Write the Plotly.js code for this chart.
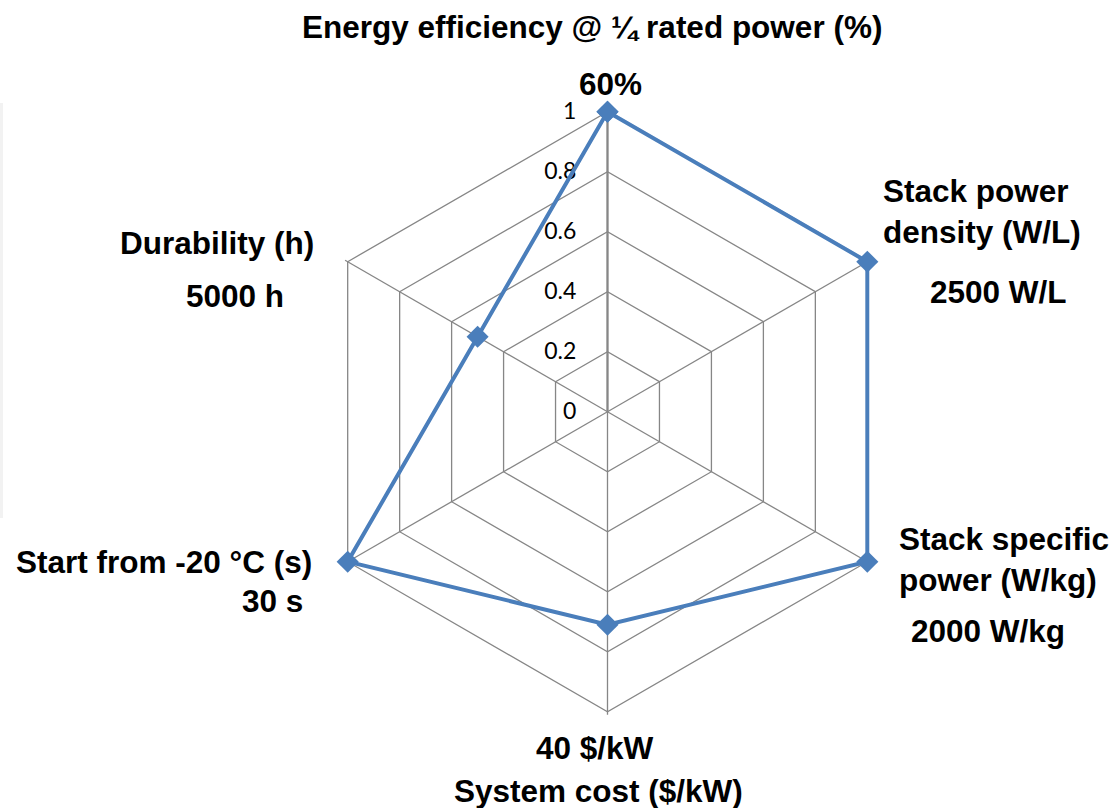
<!DOCTYPE html>
<html>
<head>
<meta charset="utf-8">
<script src="https://cdn.plot.ly/plotly-3.0.1.min.js"></script>
<style>
  html, body { margin: 0; padding: 0; background: #ffffff; }
  #chart { width: 1117px; height: 808px; }
</style>
</head>
<body>
<div id="chart"></div>
<script>
// Fuel-cell system targets, normalised so that the target on each axis = 1
const categories = [
  'Energy efficiency @ ¼ rated power (%)',
  'Stack power<br>density (W/L)',
  'Stack specific<br>power (W/kg)',
  'System cost ($/kW)',
  'Start from -20 °C (s)',
  'Durability (h)'
];
const targets = ['60%', '2500 W/L', '2000 W/kg', '40 $/kW', '30 s', '5000 h'];
const scores = [1, 1, 1, 0.71, 1, 0.5];
const radialTicks = [0, 0.2, 0.4, 0.6, 0.8, 1];

const W = 1117, H = 808;
const px = v => v / W;
const py = v => 1 - v / H;

// Where each axis name and its target value sit around the hexagon
const namePlacement = [
  { x: 592, y: 27, xanchor: 'center', align: 'center' },
  { x: 881, y: 211.5, xanchor: 'left', align: 'left' },
  { x: 897, y: 559.5, xanchor: 'left', align: 'left' },
  { x: 598, y: 791, xanchor: 'center', align: 'center' },
  { x: 314, y: 562, xanchor: 'right', align: 'right' },
  { x: 217, y: 243, xanchor: 'center', align: 'center' }
];
const targetPlacement = [
  { x: 610.5, y: 84, xanchor: 'center' },
  { x: 998, y: 292, xanchor: 'center' },
  { x: 988, y: 631, xanchor: 'center' },
  { x: 595, y: 748, xanchor: 'center' },
  { x: 305, y: 601, xanchor: 'right' },
  { x: 234.5, y: 296, xanchor: 'center' }
];

const labelFont = { family: 'Liberation Sans, Arial, sans-serif', size: 31.5, color: '#000000', weight: 700 };

const annotations = [];
categories.forEach((name, i) => {
  const p = namePlacement[i];
  annotations.push({
    xref: 'paper', yref: 'paper', x: px(p.x), y: py(p.y),
    xanchor: p.xanchor, yanchor: 'middle', align: p.align,
    text: name, showarrow: false, font: labelFont
  });
  const t = targetPlacement[i];
  annotations.push({
    xref: 'paper', yref: 'paper', x: px(t.x), y: py(t.y),
    xanchor: t.xanchor, yanchor: 'middle', align: 'center',
    text: targets[i], showarrow: false, font: labelFont
  });
});

const trace = {
  type: 'scatterpolar',
  r: scores.concat([scores[0]]),
  theta: categories.concat([categories[0]]),
  mode: 'lines+markers',
  cliponaxis: false,
  line: { color: '#4A7EBB', width: 4 },
  marker: { symbol: 'diamond', size: 17, color: '#4A7EBB' },
  hoverinfo: 'skip'
};

// The radial range runs a hair past 1 so the series line along the outer
// hexagon is not clipped; r = 1 sits 300 px from the centre (607.5, 411.7).
const rMax = 1.01;
const cx = 607.5, cy = 411.7, R = 300 * rMax;
const gridGrey = '#868686';

const layout = {
  width: W,
  height: H,
  margin: { l: 0, r: 0, t: 0, b: 0 },
  paper_bgcolor: '#ffffff',
  showlegend: false,
  polar: {
    domain: { x: [px(cx - R), px(cx + R)], y: [py(cy + R), py(cy - R)] },
    bgcolor: 'rgba(0,0,0,0)',
    gridshape: 'linear',
    angularaxis: {
      type: 'category',
      categoryorder: 'array',
      categoryarray: categories,
      rotation: 90,
      direction: 'clockwise',
      layer: 'below traces',
      showticklabels: false,
      ticks: '',
      showline: false,
      showgrid: true,
      gridcolor: gridGrey,
      gridwidth: 1.3
    },
    radialaxis: {
      range: [0, rMax],
      angle: 90,
      side: 'counterclockwise',
      layer: 'below traces',
      tickvals: radialTicks,
      ticktext: radialTicks.map(String),
      tickangle: 90,
      ticks: 'outside',
      ticklen: 22,
      tickcolor: 'rgba(0,0,0,0)',
      tickfont: { family: 'Lato, Carlito, sans-serif', size: 23, color: '#000000' },
      showline: true,
      linecolor: gridGrey,
      linewidth: 2.2,
      showgrid: true,
      gridcolor: gridGrey,
      gridwidth: 1.3
    }
  },
  annotations: annotations,
  shapes: [
    {
      type: 'rect', xref: 'paper', yref: 'paper',
      x0: 0, x1: px(3), y0: py(518), y1: py(103),
      fillcolor: 'rgba(0,0,0,0.05)', line: { width: 0 }, layer: 'below'
    }
  ]
};

Plotly.newPlot('chart', [trace], layout, { displayModeBar: false, staticPlot: true });
</script>
</body>
</html>
